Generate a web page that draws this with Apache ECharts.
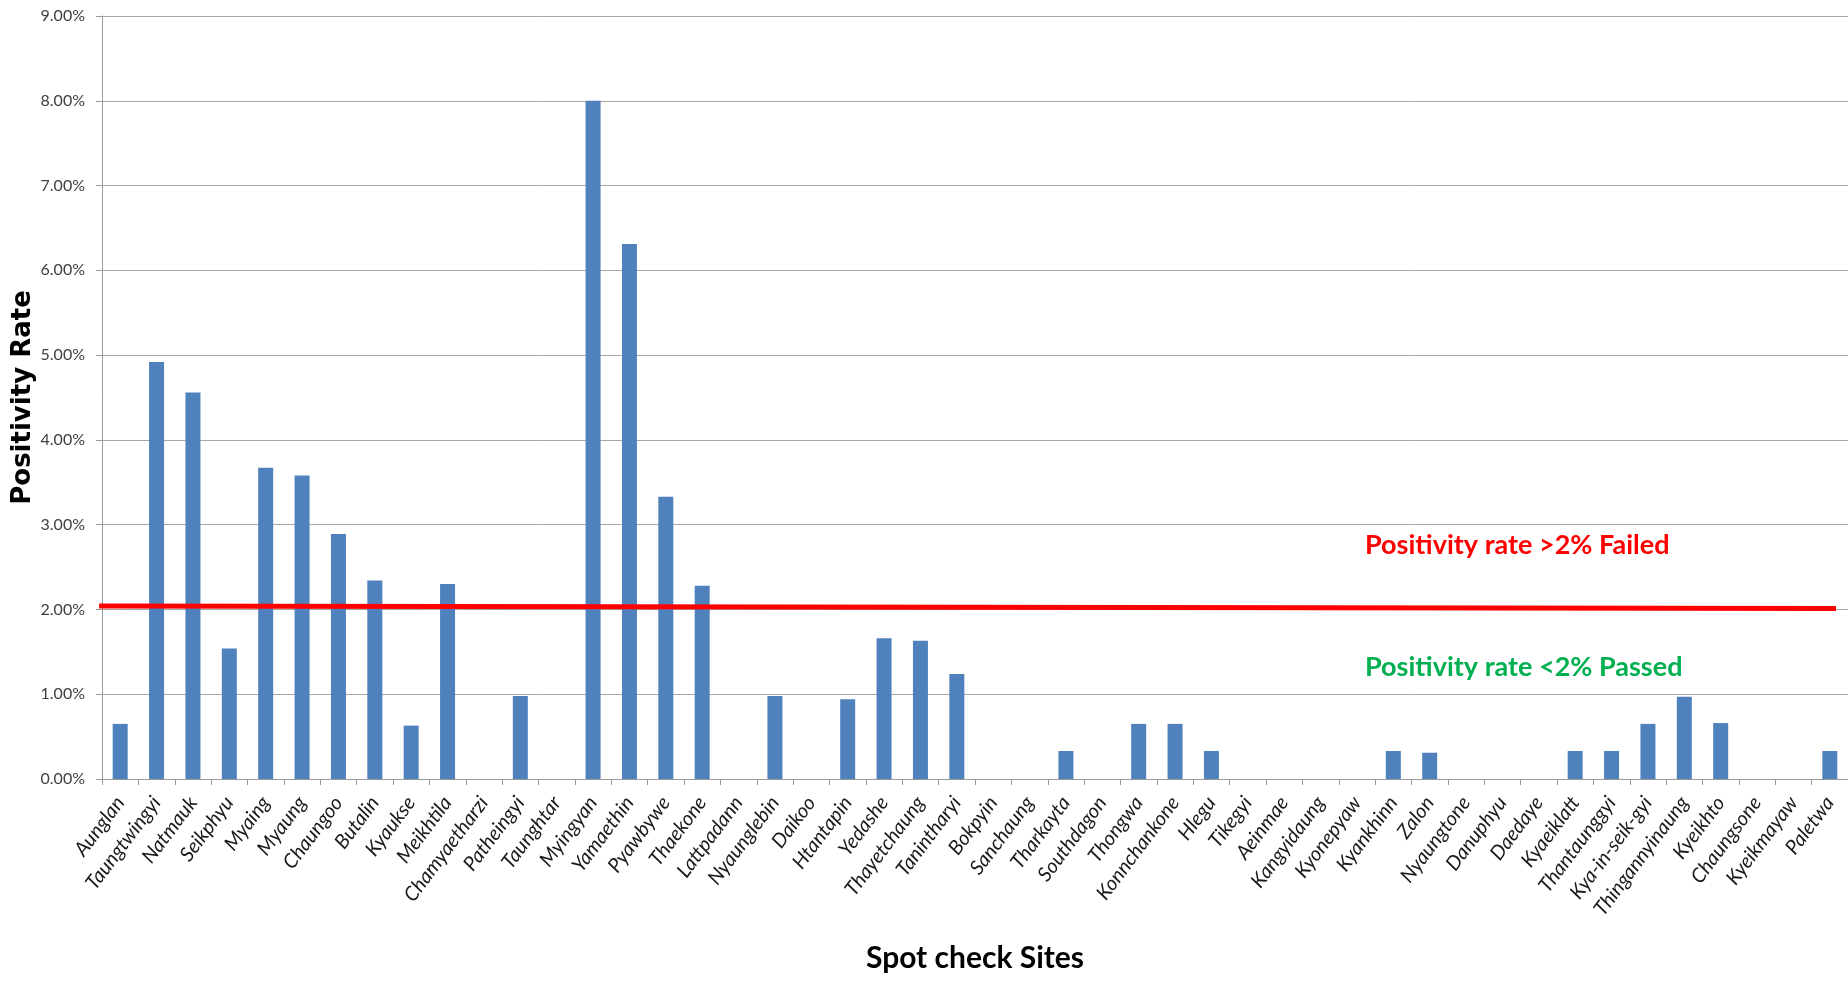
<!DOCTYPE html>
<html>
<head>
<meta charset="utf-8">
<title>Positivity Rate by Spot check Site</title>
<script src="https://cdn.jsdelivr.net/npm/echarts@6/dist/echarts.min.js"></script>
<style>
  html, body { margin: 0; padding: 0; background: #ffffff; }
  #chart { width: 1848px; height: 1003px; }
</style>
</head>
<body>
<div id="chart"></div>
<script>
// Spot check sites, in display order
const sites = [
  'Aunglan', 'Taungtwingyi', 'Natmauk', 'Seikphyu', 'Myaing', 'Myaung', 'Chaungoo', 'Butalin',
  'Kyaukse', 'Meikhtila', 'Chamyaetharzi', 'Patheingyi', 'Taunghtar', 'Myingyan', 'Yamaethin',
  'Pyawbywe', 'Thaekone', 'Lattpadann', 'Nyaunglebin', 'Daikoo', 'Htantapin', 'Yedashe',
  'Thayetchaung', 'Tanintharyi', 'Bokpyin', 'Sanchaung', 'Tharkayta', 'Southdagon', 'Thongwa',
  'Konnchankone', 'Hlegu', 'Tikegyi', 'Aeinmae', 'Kangyidaung', 'Kyonepyaw', 'Kyankhinn', 'Zalon',
  'Nyaungtone', 'Danuphyu', 'Daedaye', 'Kyaeiklatt', 'Thantaunggyi', 'Kya-in-seik-gyi',
  'Thingannyinaung', 'Kyeikhto', 'Chaungsone', 'Kyeikmayaw', 'Paletwa'
];

// Positivity rate per site, in percent
const positivityRate = [
  0.65, 4.92, 4.56, 1.54, 3.67, 3.58, 2.89, 2.34,
  0.63, 2.30, 0, 0.98, 0, 8.00, 6.31,
  3.33, 2.28, 0, 0.98, 0, 0.94, 1.66,
  1.63, 1.24, 0, 0, 0.33, 0, 0.65,
  0.65, 0.33, 0, 0, 0, 0, 0.33, 0.31,
  0, 0, 0, 0.33, 0.33, 0.65,
  0.97, 0.66, 0, 0, 0.33
];

// Value-axis ticks (percent)
const yTicks = { min: 0, max: 9, interval: 1 };

// 2% pass/fail threshold, drawn across the sites (site position, percent)
const thresholdLine = [[-0.08, 2.04], [47.67, 2.01]];

const failedText = 'Positivity rate >2% Failed';
const passedText = 'Positivity rate <2% Passed';

const uiFont = "Lato, 'Open Sans', sans-serif";

const chart = echarts.init(document.getElementById('chart'), null, { renderer: 'canvas' });

chart.setOption({
  backgroundColor: '#ffffff',
  animation: false,
  grid: {
    left: 102, right: 0, top: 16, bottom: 224,
    containLabel: false,
    outerBoundsMode: 'none'
  },
  xAxis: [
    {
      type: 'category',
      data: sites,
      name: 'Spot check Sites',
      nameLocation: 'middle',
      nameGap: 164,
      nameMoveOverlap: false,
      nameTextStyle: { fontFamily: uiFont, fontWeight: 'bold', fontSize: 30, color: '#000000' },
      axisLine: { show: true, lineStyle: { color: '#9a9a9a', width: 1 } },
      axisTick: { show: true, length: 6, lineStyle: { color: '#9a9a9a' } },
      axisLabel: {
        interval: 0,
        rotate: 53,
        margin: 20,
        fontFamily: uiFont,
        fontStyle: 'italic',
        fontSize: 20,
        color: '#1a1a1a'
      },
      splitLine: { show: false }
    },
    {
      type: 'value',
      min: 0,
      max: sites.length,
      show: false
    }
  ],
  yAxis: {
    type: 'value',
    min: yTicks.min,
    max: yTicks.max,
    interval: yTicks.interval,
    name: 'Positivity Rate',
    nameLocation: 'middle',
    nameGap: 66,
    nameMoveOverlap: false,
    nameTextStyle: { fontFamily: "'DejaVu Sans', sans-serif", fontWeight: 'bold', fontSize: 26, color: '#000000' },
    axisLine: { show: true, lineStyle: { color: '#9a9a9a', width: 1 } },
    axisTick: { show: true, length: 6, lineStyle: { color: '#9a9a9a' } },
    axisLabel: {
      margin: 17,
      fontFamily: uiFont,
      fontSize: 16,
      color: '#404040',
      formatter: v => v.toFixed(2) + '%'
    },
    splitLine: { show: true, lineStyle: { color: '#a6a6a6', width: 1 } }
  },
  series: [
    {
      name: 'Positivity Rate',
      type: 'bar',
      data: positivityRate,
      barWidth: 15,
      itemStyle: { color: '#4f81bd' },
      z: 2
    },
    {
      name: '2% threshold',
      type: 'line',
      xAxisIndex: 1,
      data: thresholdLine,
      symbol: 'none',
      clip: false,
      silent: true,
      lineStyle: { color: '#ff0000', width: 5 },
      z: 3
    }
  ],
  graphic: [
    {
      type: 'text',
      left: 1365,
      top: 532,
      style: { text: failedText, fill: '#ff0000', font: "bold 27px " + uiFont }
    },
    {
      type: 'text',
      left: 1365,
      top: 654,
      style: { text: passedText, fill: '#00b050', font: "bold 27px " + uiFont }
    }
  ]
});
</script>
</body>
</html>
